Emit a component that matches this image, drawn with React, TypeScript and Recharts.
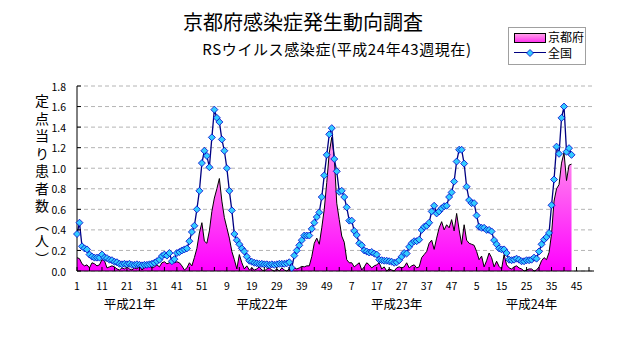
import React from 'react';
import { ComposedChart, Area, Line, XAxis, YAxis, CartesianGrid } from 'recharts';

// weekly data, 2009 week 1 .. 2012 week 43 (52 weeks per year on the axis)
const weeksPerYear = 52;
const yearNames = ['平成21年', '平成22年', '平成23年', '平成24年'];
const yearLabelAt = [21, 74, 128, 182];
const yTicks = [0, 0.2, 0.4, 0.6, 0.8, 1.0, 1.2, 1.4, 1.6, 1.8];
const xTicks = Array.from({ length: 42 }, (_, k) => k * 5);

const national = [
  0.36, 0.47, 0.24, 0.22, 0.21, 0.16, 0.14, 0.13, 0.13, 0.13,
  0.16, 0.13, 0.125, 0.11, 0.105, 0.09, 0.085, 0.07, 0.065, 0.07,
  0.065, 0.07, 0.06, 0.06, 0.065, 0.06, 0.055, 0.06, 0.06, 0.065,
  0.07, 0.08, 0.095, 0.11, 0.145, 0.16, 0.15, 0.175, 0.095, 0.115,
  0.175, 0.185, 0.2, 0.21, 0.22, 0.29, 0.38, 0.44, 0.6, 0.78,
  1.05, 1.17, 1.12, 1.01, 1.3, 1.57, 1.49, 1.45, 1.28, 1.17,
  1.0, 0.78, 0.59, 0.36, 0.3, 0.26, 0.22, 0.19, 0.14, 0.1,
  0.09, 0.08, 0.075, 0.07, 0.07, 0.065, 0.065, 0.06, 0.065, 0.06,
  0.065, 0.07, 0.07, 0.07, 0.075, 0.085, 0.03, 0.15, 0.2, 0.25,
  0.3, 0.345, 0.345, 0.345, 0.41, 0.47, 0.525, 0.57, 0.72, 0.93,
  1.13, 1.33, 1.39, 1.09, 0.97, 0.77, 0.78, 0.72, 0.62, 0.49,
  0.49, 0.39, 0.35, 0.27, 0.25, 0.2, 0.19, 0.18, 0.185, 0.17,
  0.16, 0.11, 0.105, 0.1, 0.1, 0.095, 0.09, 0.08, 0.085, 0.105,
  0.14, 0.175, 0.17, 0.235, 0.27, 0.29, 0.29, 0.305, 0.4, 0.43,
  0.44, 0.47, 0.58, 0.635, 0.56, 0.58, 0.61, 0.63, 0.635, 0.72,
  0.765, 0.87, 1.065, 1.18, 1.18, 1.045, 0.82, 0.69, 0.66, 0.66,
  0.54, 0.43, 0.42, 0.42, 0.4, 0.4, 0.385, 0.3, 0.26, 0.22,
  0.21, 0.21, 0.175, 0.11, 0.105, 0.11, 0.12, 0.11, 0.095, 0.095,
  0.105, 0.105, 0.11, 0.13, 0.12, 0.19, 0.26, 0.305, 0.33, 0.37,
  0.64, 0.89, 1.21, 1.14, 1.49, 1.6, 1.16, 1.195, 1.13,
];

const kyoto = [
  0.13, 0.12, 0.07, 0.05, 0.06, 0.03, 0.08, 0.07, 0.05, 0.06,
  0.11, 0.1, 0.03, 0.04, 0.05, 0.04, 0.02, 0.01, 0.03, 0.02,
  0.04, 0.02, 0.01, 0.03, 0.02, 0.05, 0.01, 0.03, 0.04, 0.05,
  0.03, 0.04, 0.06, 0.04, 0.08, 0.09, 0.07, 0.08, 0.09, 0.08,
  0.09, 0.08, 0.05, 0.01, 0.03, 0.08, 0.05, 0.13, 0.22, 0.37,
  0.47, 0.29, 0.27, 0.39, 0.58, 0.71, 0.8, 0.9, 0.68, 0.52,
  0.42, 0.32, 0.19, 0.11, 0.02, 0.16, 0.08, 0.02, 0.05, 0.01,
  0.03, 0.01, 0.02, 0.04, 0.01, 0, 0.02, 0.03, 0.01, 0,
  0.02, 0, 0.03, 0.01, 0, 0.02, 0.04, 0.03, 0.02, 0.03,
  0.045, 0.04, 0.05, 0.05, 0.14, 0.27, 0.32, 0.26, 0.42, 0.6,
  0.86, 1.15, 1.3, 1.11, 0.66, 0.5, 0.34, 0.28, 0.11, 0.08,
  0.08, 0.04, 0.06, 0.08, 0.01, 0.04, 0.08, 0.06, 0.03, 0.05,
  0.06, 0.08, 0.02, 0.04, 0, 0.02, 0.01, 0, 0.03, 0.04,
  0.03, 0.04, 0.08, 0.03, 0.05, 0.06, 0.03, 0.04, 0.13, 0.16,
  0.19, 0.27, 0.3, 0.21, 0.32, 0.42, 0.48, 0.4, 0.45, 0.42,
  0.5, 0.39, 0.56, 0.4, 0.26, 0.45, 0.3, 0.27, 0.26, 0.25,
  0.19, 0.11, 0.145, 0.04, 0.1, 0.175, 0.13, 0.04, 0.095, 0.045,
  0.02, 0.16, 0.06, 0.03, 0.02, 0.04, 0.05, 0.03, 0.02, 0,
  0.01, 0.02, 0.02, 0, 0.01, 0.04, 0.1, 0.13, 0.11, 0.18,
  0.36, 0.68, 0.8, 0.84, 1.05, 1.15, 0.88, 1.03, 1.04,
];

const data = national.map((v, i) => ({ i, national: v, kyoto: kyoto[i] }));

const FONT = '"Noto Sans CJK JP", "Noto Sans", sans-serif';

const Diamond = (props: any) => {
  const { cx, cy } = props;
  if (cx == null || cy == null) return null;
  const r = 3.5;
  return (
    <polygon
      points={`${cx},${cy - r} ${cx + r},${cy} ${cx},${cy + r} ${cx - r},${cy}`}
      fill="#33ccff"
      stroke="#0000cc"
      strokeWidth={0.8}
    />
  );
};

const WeekTick = (props: any) => {
  const { x, y, payload } = props;
  const v = payload.value;
  return (
    <g>
      <line x1={x} y1={y} x2={x} y2={y - 4} stroke="#000" />
      {v % 10 === 0 && (
        <text x={x} y={y + 14} textAnchor="middle" dominantBaseline="central" fontSize={10.5} fill="#000" fontFamily={FONT}>
          {(v % weeksPerYear) + 1}
        </text>
      )}
    </g>
  );
};

const YearTick = (props: any) => {
  const { x, y, index } = props;
  return (
    <text x={x} y={y + 16} textAnchor="middle" dominantBaseline="central" fontSize={12.5} fill="#000" fontFamily={FONT}>
      {yearNames[index]}
    </text>
  );
};

const ValueTick = (props: any) => {
  const { x, y, payload } = props;
  return (
    <g>
      <line x1={x} y1={y} x2={x + 4} y2={y} stroke="#000" />
      <text x={x - 11} y={y} textAnchor="end" dominantBaseline="central" fontSize={10.5} fill="#000" fontFamily={FONT}>
        {Number(payload.value).toFixed(1)}
      </text>
    </g>
  );
};

export default function App() {
  return (
    <div style={{ position: 'absolute', left: 0, top: 0, width: 632, height: 348, background: '#fff', fontFamily: FONT, color: '#000' }}>
      <div style={{ position: 'absolute', left: 153, width: 300, top: 10, textAlign: 'center', fontSize: 20, lineHeight: '24px' }}>
        京都府感染症発生動向調査
      </div>
      <div style={{ position: 'absolute', left: 187, width: 300, top: 40, textAlign: 'center', fontSize: 15, lineHeight: '18px', letterSpacing: 0.6 }}>
        RSウイルス感染症(平成24年43週現在)
      </div>
      <div style={{ position: 'absolute', left: 508, top: 27, width: 76, height: 36, border: '1px solid #a0a0a0', fontSize: 12 }}>
        <div style={{ position: 'absolute', left: 5, top: 5, width: 30, height: 8, border: '1px solid #000', background: 'linear-gradient(#ff9ee8, #ff33ee)' }} />
        <div style={{ position: 'absolute', left: 39, top: 1, lineHeight: '16px' }}>京都府</div>
        <div style={{ position: 'absolute', left: 5, top: 24, width: 32, height: 1.3, background: '#000080' }} />
        <svg style={{ position: 'absolute', left: 16, top: 20 }} width={10} height={10}>
          <polygon points="5,1.5 8.5,5 5,8.5 1.5,5" fill="#33ccff" stroke="#0000cc" strokeWidth={0.8} />
        </svg>
        <div style={{ position: 'absolute', left: 39, top: 17, lineHeight: '16px' }}>全国</div>
      </div>
      <div style={{ position: 'absolute', left: 35, top: 94, writingMode: 'vertical-rl', textOrientation: 'upright', fontSize: 14, letterSpacing: 3.5, lineHeight: '14px' }}>
        定点当り患者数（人）
      </div>
      <ComposedChart width={632} height={348} data={data} margin={{ top: 86, right: 38, bottom: 31, left: 37 }}>
        <defs>
          <linearGradient id="kyotoFill" x1="0" y1="0" x2="0" y2="1">
            <stop offset="0" stopColor="#ffa0ea" />
            <stop offset="1" stopColor="#ff00ff" />
          </linearGradient>
        </defs>
        <CartesianGrid vertical={false} stroke="#b4b4b4" strokeDasharray="4 3" />
        <XAxis
          dataKey="i"
          type="number"
          domain={[0, 207]}
          ticks={xTicks}
          interval={0}
          tickLine={false}
          tickSize={0}
          tickMargin={0}
          height={16}
          axisLine={{ stroke: '#000' }}
          tick={<WeekTick />}
        />
        <XAxis
          xAxisId="yr"
          dataKey="i"
          type="number"
          domain={[0, 207]}
          ticks={yearLabelAt}
          interval={0}
          tickLine={false}
          tickSize={0}
          tickMargin={0}
          height={30}
          axisLine={false}
          tick={<YearTick />}
        />
        <YAxis
          domain={[0, 1.8]}
          ticks={yTicks}
          interval={0}
          width={40}
          tickLine={false}
          tickSize={0}
          tickMargin={0}
          axisLine={{ stroke: '#000' }}
          tick={<ValueTick />}
        />
        <Area
          type="linear"
          dataKey="kyoto"
          stroke="#000"
          strokeWidth={1}
          fill="url(#kyotoFill)"
          fillOpacity={1}
          dot={false}
          activeDot={false}
          isAnimationActive={false}
        />
        <Line
          type="linear"
          dataKey="national"
          stroke="#000080"
          strokeWidth={1.3}
          dot={<Diamond />}
          activeDot={false}
          isAnimationActive={false}
        />
      </ComposedChart>
    </div>
  );
}
